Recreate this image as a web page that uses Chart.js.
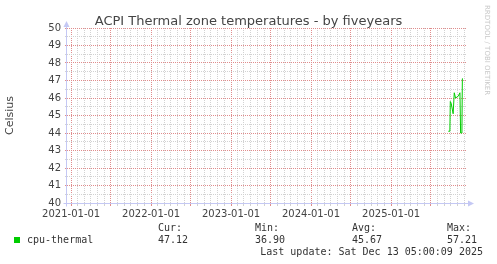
<!DOCTYPE html>
<html><head><meta charset="utf-8">
<script src="https://cdn.jsdelivr.net/npm/chart.js@4.4.1/dist/chart.umd.min.js"></script>
<style>
body{margin:0;background:#fff;}
#wrap{position:relative;width:497px;height:264px;overflow:hidden;background:#fff;}
canvas{position:absolute;left:0;top:0;}
.t{position:absolute;white-space:pre;}
#title{left:0;width:497px;text-align:center;top:14px;font:13px "DejaVu Sans";line-height:13px;color:#444;}
.m{font:10px "DejaVu Sans Mono";line-height:10px;color:#333;}
#wm{left:483px;top:5px;writing-mode:vertical-rl;font:7px "DejaVu Sans";line-height:7px;color:#c8c8c8;}
#sq{position:absolute;left:14px;top:237px;width:6px;height:6px;background:#00cc00;}
</style></head>
<body><div id="wrap">
<canvas id="c" width="497" height="264"></canvas>
<div id="title" class="t">ACPI Thermal zone temperatures - by fiveyears</div>
<div id="wm" class="t">RRDTOOL / TOBI OETIKER</div>
<div id="sq"></div>
</div>
<script>
// ---- data ----
const seriesName = 'cpu-thermal';
const dates = ['2025-09-19','2025-09-26','2025-09-28','2025-10-02','2025-10-11','2025-10-14','2025-10-16','2025-10-22','2025-11-03','2025-11-11','2025-11-14','2025-11-20','2025-11-22','2025-11-25'];
const cpuThermal = [44.1,44.1,45.8,45.7,45.1,45.1,46.3,46.0,46.1,46.3,44.0,44.0,47.1,47.1];
const statLabels = ['Cur:','Min:','Avg:','Max:'];
const statValues = ['47.12','36.90','45.67','57.21'];
const lastUpdate = 'Last update: Sat Dec 13 05:00:09 2025';
const yMin = 40, yMax = 50, yStep = 0.5;

// ---- layout (not data) ----
const statX = [158,255,352,447];
const wrap = document.getElementById('wrap');
function addText(txt, left, top, right){
  const d=document.createElement('div'); d.className='t m'; d.textContent=txt;
  d.style.top=top+'px';
  if(right!==undefined){d.style.right=right+'px';} else d.style.left=left+'px';
  wrap.appendChild(d);
}
statLabels.forEach((s,i)=>addText(s,statX[i],223));
addText(seriesName,27,235);
statValues.forEach((s,i)=>addText(s,statX[i],235));
addText(lastUpdate,0,247,14);

const toMs = s => { const [y,m,d]=s.split('-').map(Number); return Date.UTC(y,m-1,d); };
const END = Date.UTC(2025,11,13,5,0,9);
const START = END - 5*365.25*86400000;
const MAJ = '#e08c8c', MIN = '#d2d2d2', AX = '#c4c8f4';
const TXT = '#444';
const isMajorMonth = v => { const m = new Date(v).getUTCMonth(); return m===0 || m===6; };

const axes = {
  id:'axes',
  beforeDatasetsDraw(c){
    const {ctx, chartArea:a} = c;
    ctx.save();
    ctx.strokeStyle=AX; ctx.fillStyle=AX; ctx.lineWidth=1;
    const x0=Math.round(a.left)-0.5, yb=Math.round(a.bottom)+0.5;
    ctx.beginPath();
    ctx.moveTo(x0, yb+3); ctx.lineTo(x0, a.top-3);
    ctx.moveTo(x0-3, yb); ctx.lineTo(a.right+3, yb);
    ctx.stroke();
    ctx.beginPath();
    ctx.moveTo(x0, a.top-7); ctx.lineTo(x0-3, a.top-1); ctx.lineTo(x0+3, a.top-1); ctx.closePath(); ctx.fill();
    ctx.beginPath();
    ctx.moveTo(a.right+7, yb); ctx.lineTo(a.right+1, yb-3); ctx.lineTo(a.right+1, yb+3); ctx.closePath(); ctx.fill();
    ctx.restore();
  }
};

new Chart(document.getElementById('c'), {
  type:'line',
  data:{ datasets:[{
    label:seriesName,
    data: dates.map((d,i)=>({x:toMs(d), y:cpuThermal[i]})),
    borderColor:'#00cc00', backgroundColor:'#00cc00', borderWidth:1,
    pointRadius:0, tension:0
  }]},
  options:{
    responsive:false, animation:false, devicePixelRatio:1,
    layout:{padding:{top:28,right:30,left:0,bottom:0}},
    plugins:{legend:{display:false}, tooltip:{enabled:false}, title:{display:false}},
    scales:{
      x:{
        type:'linear', min:START, max:END,
        afterBuildTicks(s){
          const t=[]; const d=new Date(START);
          let y=d.getUTCFullYear(), m=d.getUTCMonth()+1;
          if(m>11){m=0;y++;}
          while(true){ const v=Date.UTC(y,m,1); if(v>END) break; t.push({value:v}); m++; if(m>11){m=0;y++;} }
          s.ticks=t;
        },
        afterFit(s){ s.height=61; },
        ticks:{autoSkip:false, maxRotation:0, minRotation:0, padding:2, color:TXT,
          font:{family:'DejaVu Sans', size:10},
          callback(v){ const d=new Date(v); return d.getUTCMonth()===0 ? d.getUTCFullYear()+'-01-01' : ''; }},
        grid:{ color:ctx=>{ const tk=ctx.tick; if(!tk) return MIN; return isMajorMonth(tk.value)?MAJ:MIN; },
               lineWidth:1, drawTicks:true, tickLength:3, tickBorderDash:[] },
        border:{display:false, dash:[1,1]}
      },
      y:{
        min:yMin, max:yMax,
        afterFit(s){ s.width=67; },
        ticks:{stepSize:yStep, autoSkip:false, padding:4, color:TXT,
          font:{family:'DejaVu Sans', size:10},
          callback(v){ return Number.isInteger(v) ? String(v) : ''; }},
        grid:{ color:ctx=>{ const tk=ctx.tick; if(!tk) return MIN; return Number.isInteger(tk.value)?MAJ:MIN; },
               lineWidth:1, drawTicks:true, tickLength:2, tickBorderDash:[] },
        border:{display:false, dash:[1,1]},
        title:{display:true, text:'Celsius', color:TXT, font:{family:'DejaVu Sans', size:11}, padding:{top:4,bottom:0}}
      }
    }
  },
  plugins:[axes]
});
</script>
</body></html>
